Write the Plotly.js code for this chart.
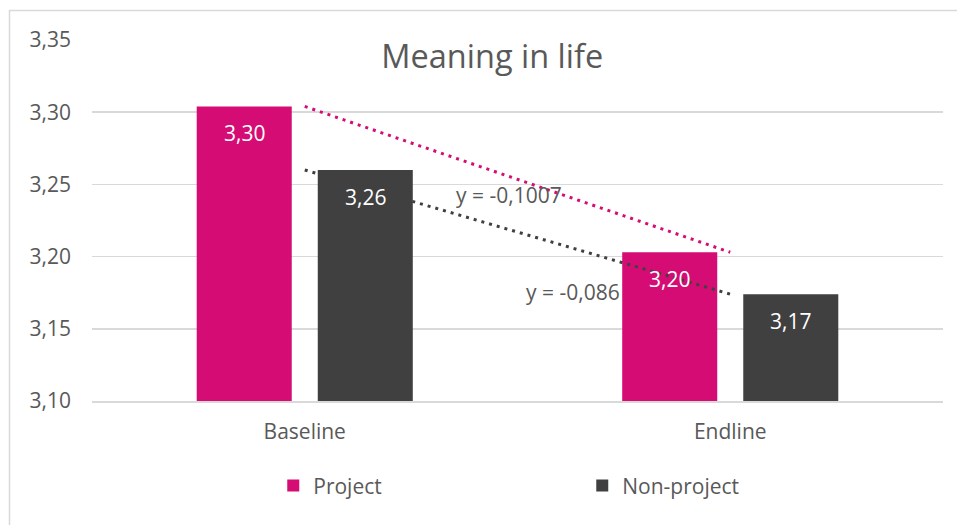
<!DOCTYPE html>
<html>
<head>
<meta charset="utf-8">
<script src="https://cdn.plot.ly/plotly-3.0.1.min.js"></script>
<style>html,body{margin:0;padding:0;background:#fff;}#chart{width:957px;height:525px;}</style>
</head>
<body>
<div id="chart"></div>
<script>
// ---- data ----
const categories = ['Baseline', 'Endline'];
const seriesNames = ['Project', 'Non-project'];
const projectValues = [3.304, 3.203];
const nonProjectValues = [3.260, 3.174];
const yTickValues = [3.10, 3.15, 3.20, 3.25, 3.30, 3.35];
const trendLabels = ['y = -0,1007', 'y = -0,086'];
const chartTitle = 'Meaning in life';

// ---- style ----
const pink = '#D40C74';
const dark = '#404040';
const textColor = '#595959';
const font = 'Open Sans, Noto Sans, sans-serif';
const fs = 21;
const fmt = v => v.toFixed(2).replace('.', ',');

const traces = [
  {type: 'bar', name: seriesNames[0], x: categories, y: projectValues,
   marker: {color: pink}, hoverinfo: 'none'},
  {type: 'bar', name: seriesNames[1], x: categories, y: nonProjectValues,
   marker: {color: dark}, hoverinfo: 'none'},
  {type: 'scatter', mode: 'lines', x: categories, y: projectValues, showlegend: false,
   line: {color: pink, width: 3, dash: '3px,5px'}, hoverinfo: 'none'},
  {type: 'scatter', mode: 'lines', x: categories, y: nonProjectValues, showlegend: false,
   line: {color: dark, width: 3, dash: '3px,5px'}, hoverinfo: 'none'}
];

const annotations = [];
const groupShift = 60.5;
[[projectValues, -groupShift], [nonProjectValues, groupShift]].forEach(([vals, sh]) => {
  vals.forEach((v, i) => {
    annotations.push({x: categories[i], y: v, xref: 'x', yref: 'y', text: fmt(v),
      showarrow: false, xshift: sh, yshift: -27, yanchor: 'middle',
      font: {family: font, size: fs, color: '#ffffff'}});
  });
});
// trendline equation labels
annotations.push({xref: 'paper', yref: 'y', x: 0.4254, y: 3.2427, xanchor: 'left', yanchor: 'middle',
  text: trendLabels[0], showarrow: false, font: {family: font, size: fs, color: textColor}});
annotations.push({xref: 'paper', yref: 'y', x: 0.5076, y: 3.1755, xanchor: 'left', yanchor: 'middle',
  text: trendLabels[1], showarrow: false, font: {family: font, size: fs, color: textColor}});

const layout = {
  width: 957, height: 525,
  margin: {l: 92, r: 14, t: 40, b: 124, pad: 0},
  paper_bgcolor: '#ffffff', plot_bgcolor: '#ffffff',
  separators: ',.',
  font: {family: font, size: fs, color: textColor},
  title: {text: chartTitle, font: {family: font, size: 32.5, color: textColor},
          xref: 'paper', x: 0.4703, xanchor: 'center', yref: 'container', y: 1 - 57/525, yanchor: 'middle'},
  barmode: 'group', bargap: 0.431, bargroupgap: 0.215,
  xaxis: {type: 'category', showgrid: false, showline: true, linecolor: '#d9d9d9', linewidth: 1.5,
          ticks: '', ticklabelstandoff: 11, tickfont: {family: font, size: fs, color: textColor}, zeroline: false},
  yaxis: {range: [3.10, 3.35], tickvals: yTickValues, tickformat: '.2f', showgrid: true,
          gridcolor: '#d9d9d9', gridwidth: 1.5, zeroline: false, showline: false, ticks: '',
          ticklabelstandoff: 20, tickfont: {family: font, size: fs, color: textColor}},
  legend: {orientation: 'h', x: 0.213, xanchor: 'left', y: -0.235, yanchor: 'middle',
           entrywidth: 264, entrywidthmode: 'pixels', font: {family: font, size: fs, color: textColor},
           traceorder: 'normal'},
  shapes: [{type: 'rect', xref: 'paper', yref: 'paper', x0: (9.5 - 92) / 851, x1: 1.1,
            y0: -0.5, y1: (401 - 10.5) / 361, line: {color: '#d9d9d9', width: 1.5}, layer: 'below'}],
  annotations: annotations,
  showlegend: true
};

Plotly.newPlot('chart', traces, layout, {displayModeBar: false, staticPlot: true});
</script>
</body>
</html>
